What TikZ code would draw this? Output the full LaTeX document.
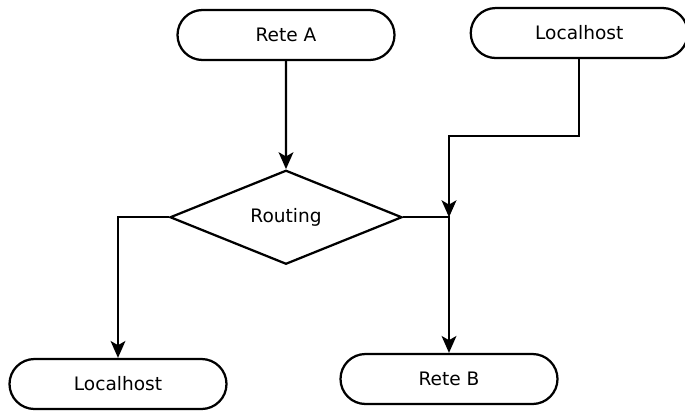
\documentclass[tikz,border=0pt]{standalone}
\usepackage{fontspec}
\setmainfont{DejaVu Sans}
\usetikzlibrary{arrows.meta, positioning, shapes.geometric, shapes.misc}

\begin{document}
\begin{tikzpicture}[
      node distance=2.7cm and 1.85cm,
      line width=1.6pt,
      font=\fontsize{13.2}{15}\selectfont,
      pill/.style={rounded rectangle, draw, minimum width=5.425cm, minimum height=1.25cm, inner sep=0pt},
      choice/.style={diamond, draw, minimum width=5.8cm, minimum height=2.35cm, inner sep=0pt},
      >={Stealth[length=12pt, width=10.5pt, inset=3pt]},
    ]
    \useasboundingbox (0,0) rectangle (17.125,-10.25);
    \node[pill] (reteA) at (7.15,-0.875) {Rete A};
    \node[pill, right=of reteA, yshift=1.4pt] (lhTop) {Localhost};
    \node[choice, below=of reteA] (routing) {Routing};
    \node[pill] (lhBot) at (2.95,-9.6) {Localhost};
    \node[pill] (reteB) at (11.225,-9.475) {Rete B};
    \coordinate (junc) at (reteB.north |- routing.east);
    \coordinate[below=1.925cm of lhTop.south] (bend);
    \draw[->] (reteA) -- (routing);
    \draw[->] (lhTop.south) -- (bend) -| (junc);
    \draw[->] (routing.west) -| (lhBot.north);
    \draw[->] (routing.east) -| (reteB.north);
  \end{tikzpicture}
\end{document}
